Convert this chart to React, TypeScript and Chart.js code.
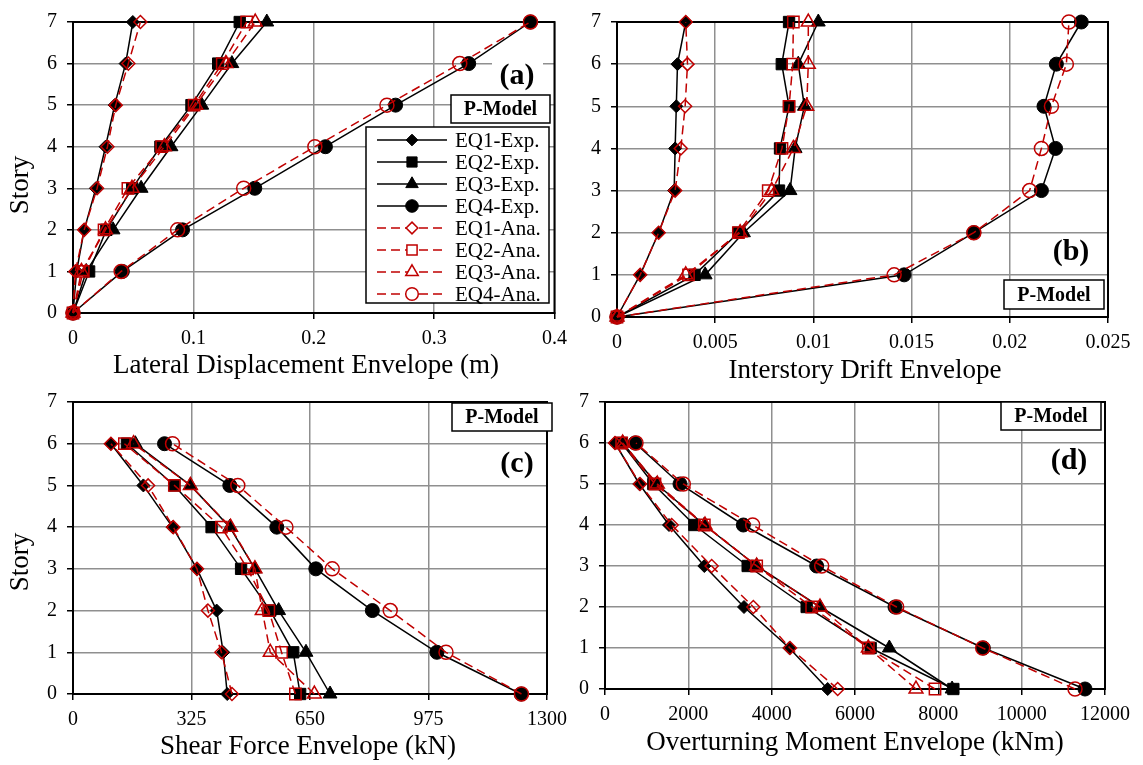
import React, { useEffect, useRef } from 'react';
import { Chart, registerables } from 'chart.js';

Chart.register(...registerables);

const FONT = "'Liberation Serif', 'Times New Roman', serif";
const RED = '#c00000';
const GRID = '#8f8f8f';

// ---------- shared ----------
const seriesLabels = ['EQ1-Exp.', 'EQ2-Exp.', 'EQ3-Exp.', 'EQ4-Exp.', 'EQ1-Ana.', 'EQ2-Ana.', 'EQ3-Ana.', 'EQ4-Ana.'];
const storiesTop = [0, 1, 2, 3, 4, 5, 6, 7];
const storiesBottom = [0, 1, 2, 3, 4, 5, 6];
const storyTicks = [0, 1, 2, 3, 4, 5, 6, 7];

// ---------- (a) Lateral displacement envelope (m) ----------
const dispTicks = [0, 0.1, 0.2, 0.3, 0.4];
const dispEQ1Exp = [0, 0.003, 0.0093, 0.019, 0.027, 0.0346, 0.0437, 0.0497];
const dispEQ2Exp = [0, 0.0134, 0.0277, 0.0492, 0.0726, 0.0984, 0.1206, 0.1385];
const dispEQ3Exp = [0, 0.011, 0.0333, 0.0566, 0.0814, 0.107, 0.132, 0.161];
const dispEQ4Exp = [0, 0.041, 0.091, 0.151, 0.2097, 0.268, 0.3287, 0.38];
const dispEQ1Ana = [0, 0.002, 0.0093, 0.02, 0.0286, 0.0355, 0.046, 0.056];
const dispEQ2Ana = [0, 0.0085, 0.0258, 0.0456, 0.0737, 0.1006, 0.124, 0.1443];
const dispEQ3Ana = [0, 0.007, 0.027, 0.049, 0.0759, 0.102, 0.127, 0.1514];
const dispEQ4Ana = [0, 0.04, 0.0869, 0.1418, 0.2009, 0.2608, 0.3213, 0.38];

// ---------- (b) Interstory drift envelope ----------
const driftTicks = [0, 0.005, 0.01, 0.015, 0.02, 0.025];
const driftEQ1Exp = [0, 0.00118, 0.00212, 0.00291, 0.00296, 0.00302, 0.00308, 0.0035];
const driftEQ2Exp = [0, 0.00395, 0.00618, 0.00825, 0.0083, 0.00876, 0.00839, 0.00876];
const driftEQ3Exp = [0, 0.00449, 0.00644, 0.00881, 0.00907, 0.00954, 0.00923, 0.01025];
const driftEQ4Exp = [0, 0.01462, 0.01817, 0.02161, 0.02233, 0.02174, 0.02237, 0.02364];
const driftEQ1Ana = [0, 0.00118, 0.00212, 0.00296, 0.00325, 0.00347, 0.00359, 0.0035];
const driftEQ2Ana = [0, 0.00364, 0.00618, 0.0077, 0.0084, 0.00876, 0.00895, 0.00898];
const driftEQ3Ana = [0, 0.0035, 0.00627, 0.00788, 0.00898, 0.00966, 0.00974, 0.00974];
const driftEQ4Ana = [0, 0.01411, 0.01817, 0.02101, 0.02161, 0.02212, 0.02288, 0.02301];

// ---------- (c) Shear force envelope (kN) ----------
const shearTicks = [0, 325, 650, 975, 1300];
const shearEQ1Exp = [423, 412, 394, 340, 273, 193, 104];
const shearEQ2Exp = [623, 604, 541, 461, 380, 278, 148];
const shearEQ3Exp = [705, 639, 564, 499, 430, 322, 171];
const shearEQ4Exp = [1229, 998, 821, 666, 559, 430, 251];
const shearEQ1Ana = [436, 407, 370, 340, 275, 206, 104];
const shearEQ2Ana = [610, 572, 537, 479, 407, 278, 141];
const shearEQ3Ana = [662, 541, 519, 499, 432, 322, 166];
const shearEQ4Ana = [1230, 1023, 870, 711, 584, 452, 273];

// ---------- (d) Overturning moment envelope (kNm) ----------
const momentTicks = [0, 2000, 4000, 6000, 8000, 10000, 12000];
const momentEQ1Exp = [5344, 4424, 3336, 2384, 1536, 824, 240];
const momentEQ2Exp = [8360, 6376, 4840, 3424, 2144, 1160, 400];
const momentEQ3Exp = [8330, 6824, 5160, 3640, 2384, 1240, 424];
const momentEQ4Exp = [11520, 9080, 6960, 5080, 3320, 1800, 720];
const momentEQ1Ana = [5584, 4440, 3560, 2560, 1600, 840, 240];
const momentEQ2Ana = [7920, 6320, 4960, 3640, 2384, 1200, 400];
const momentEQ3Ana = [7464, 6320, 5160, 3640, 2400, 1256, 424];
const momentEQ4Ana = [11280, 9064, 7000, 5200, 3544, 1880, 744];

const shapes = ['rectRot', 'rect', 'triangle', 'circle'];
const radii = [6.5, 8, 8, 7];

type Box = [number, number, number, number];
interface PanelSpec {
  key: string;
  left: number; top: number; w: number; h: number;
  area: { l: number; t: number; r: number; b: number };
  xMin: number; xMax: number; xTicks: number[];
  stories: number[];
  series: number[][];
  xTitle: string; xTitlePos: [number, number];
  yTitlePos?: [number, number];
  label: string; labelPos: [number, number]; labelBg?: Box;
  pbox: Box;
  legend?: Box;
}

const panels: PanelSpec[] = [
  {
    key: 'a', left: 0, top: 0, w: 575, h: 385,
    area: { l: 73, t: 18, r: 557, b: 313 },
    xMin: 0, xMax: 0.4, xTicks: dispTicks, stories: storiesTop,
    series: [dispEQ1Exp, dispEQ2Exp, dispEQ3Exp, dispEQ4Exp, dispEQ1Ana, dispEQ2Ana, dispEQ3Ana, dispEQ4Ana],
    xTitle: 'Lateral Displacement Envelope (m)', xTitlePos: [306, 373],
    yTitlePos: [28, 185],
    label: '(a)', labelPos: [517, 76], labelBg: [492, 58, 51, 35],
    pbox: [451, 95, 99, 28],
    legend: [366, 127, 183, 176],
  },
  {
    key: 'b', left: 575, top: 0, w: 568, h: 385,
    area: { l: 617, t: 18, r: 1108, b: 317 },
    xMin: 0, xMax: 0.025, xTicks: driftTicks, stories: storiesTop,
    series: [driftEQ1Exp, driftEQ2Exp, driftEQ3Exp, driftEQ4Exp, driftEQ1Ana, driftEQ2Ana, driftEQ3Ana, driftEQ4Ana],
    xTitle: 'Interstory Drift Envelope', xTitlePos: [865, 378],
    label: '(b)', labelPos: [1071, 252],
    pbox: [1004, 280, 100, 29],
  },
  {
    key: 'c', left: 0, top: 380, w: 575, h: 385,
    area: { l: 73, t: 396, r: 557, b: 694 },
    xMin: 0, xMax: 1300, xTicks: shearTicks, stories: storiesBottom,
    series: [shearEQ1Exp, shearEQ2Exp, shearEQ3Exp, shearEQ4Exp, shearEQ1Ana, shearEQ2Ana, shearEQ3Ana, shearEQ4Ana],
    xTitle: 'Shear Force Envelope (kN)', xTitlePos: [308, 754],
    yTitlePos: [28, 562],
    label: '(c)', labelPos: [517, 464],
    pbox: [452, 403, 100, 28],
  },
  {
    key: 'd', left: 575, top: 380, w: 568, h: 385,
    area: { l: 605, t: 396, r: 1105, b: 689 },
    xMin: 0, xMax: 12000, xTicks: momentTicks, stories: storiesBottom,
    series: [momentEQ1Exp, momentEQ2Exp, momentEQ3Exp, momentEQ4Exp, momentEQ1Ana, momentEQ2Ana, momentEQ3Ana, momentEQ4Ana],
    xTitle: 'Overturning Moment Envelope (kNm)', xTitlePos: [855, 750],
    label: '(d)', labelPos: [1069, 461],
    pbox: [1001, 402, 100, 28],
  },
];

function shapePath(ctx: CanvasRenderingContext2D, shape: string, x: number, y: number, r: number) {
  ctx.beginPath();
  if (shape === 'circle') {
    ctx.arc(x, y, r, 0, Math.PI * 2);
  } else if (shape === 'rect') {
    const s = r * Math.SQRT1_2;
    ctx.rect(x - s, y - s, 2 * s, 2 * s);
  } else if (shape === 'rectRot') {
    ctx.moveTo(x, y - r);
    ctx.lineTo(x + r, y);
    ctx.lineTo(x, y + r);
    ctx.lineTo(x - r, y);
    ctx.closePath();
  } else {
    ctx.moveTo(x, y - r);
    ctx.lineTo(x + r * Math.sin((2 * Math.PI) / 3), y - r * Math.cos((2 * Math.PI) / 3));
    ctx.lineTo(x + r * Math.sin((4 * Math.PI) / 3), y - r * Math.cos((4 * Math.PI) / 3));
    ctx.closePath();
  }
}

function makePlugin(spec: PanelSpec) {
  const ox = spec.left;
  const oy = spec.top;
  return {
    id: 'anno' + spec.key,
    beforeDatasetsDraw(chart: any) {
      const { ctx, chartArea: a } = chart;
      ctx.save();
      ctx.strokeStyle = '#000';
      ctx.lineWidth = 2;
      ctx.beginPath();
      ctx.moveTo(a.left - 1, a.top);
      ctx.lineTo(a.right, a.top);
      ctx.lineTo(a.right, a.bottom + 1);
      ctx.stroke();
      ctx.restore();
    },
    afterDraw(chart: any) {
      const ctx: CanvasRenderingContext2D = chart.ctx;
      ctx.save();
      ctx.fillStyle = '#000';
      // x title
      ctx.font = `27px ${FONT}`;
      ctx.textAlign = 'center';
      ctx.textBaseline = 'alphabetic';
      ctx.fillText(spec.xTitle, spec.xTitlePos[0] - ox, spec.xTitlePos[1] - oy);
      // y title
      if (spec.yTitlePos) {
        ctx.save();
        ctx.translate(spec.yTitlePos[0] - ox, spec.yTitlePos[1] - oy);
        ctx.rotate(-Math.PI / 2);
        ctx.textAlign = 'center';
        ctx.textBaseline = 'alphabetic';
        ctx.fillText('Story', 0, 0);
        ctx.restore();
      }
      // panel label
      if (spec.labelBg) {
        ctx.fillStyle = '#fff';
        ctx.fillRect(spec.labelBg[0] - ox, spec.labelBg[1] - oy, spec.labelBg[2], spec.labelBg[3]);
      }
      ctx.fillStyle = '#000';
      ctx.font = `bold 30px ${FONT}`;
      ctx.textAlign = 'center';
      ctx.textBaseline = 'middle';
      ctx.fillText(spec.label, spec.labelPos[0] - ox, spec.labelPos[1] - oy);
      // P-Model box
      const [bx, by, bw, bh] = spec.pbox;
      ctx.fillStyle = '#fff';
      ctx.fillRect(bx - ox, by - oy, bw, bh);
      ctx.strokeStyle = '#000';
      ctx.lineWidth = 1.5;
      ctx.strokeRect(bx - ox, by - oy, bw, bh);
      ctx.fillStyle = '#000';
      ctx.font = `bold 20px ${FONT}`;
      ctx.fillText('P-Model', bx - ox + bw / 2, by - oy + bh / 2 + 1);
      // legend
      if (spec.legend) {
        const [lx, ly, lw, lh] = spec.legend;
        ctx.fillStyle = '#fff';
        ctx.fillRect(lx - ox, ly - oy, lw, lh);
        ctx.strokeStyle = '#000';
        ctx.lineWidth = 1.5;
        ctx.strokeRect(lx - ox, ly - oy, lw, lh);
        for (let i = 0; i < seriesLabels.length; i++) {
          const ana = i >= 4;
          const k = i % 4;
          const y = ly - oy + 13 + i * 22;
          const x0 = lx - ox + 11;
          const x1 = lx - ox + 81;
          const xm = (x0 + x1) / 2;
          ctx.save();
          ctx.strokeStyle = ana ? RED : '#000';
          ctx.lineWidth = 1.5;
          ctx.setLineDash(ana ? [9, 5] : []);
          ctx.beginPath();
          ctx.moveTo(x0, y);
          ctx.lineTo(x1, y);
          ctx.stroke();
          ctx.setLineDash([]);
          shapePath(ctx, shapes[k], xm, y, radii[k] * 0.9);
          ctx.fillStyle = ana ? '#fff' : '#000';
          ctx.fill();
          ctx.lineWidth = ana ? 1.5 : 1;
          ctx.stroke();
          ctx.restore();
          ctx.fillStyle = '#000';
          ctx.font = `21px ${FONT}`;
          ctx.textAlign = 'left';
          ctx.textBaseline = 'middle';
          ctx.fillText(seriesLabels[i], lx - ox + 89, y + 1);
        }
      }
      ctx.restore();
    },
  };
}

function makeConfig(spec: PanelSpec): any {
  const yW = spec.area.l - spec.left;
  const padTop = spec.area.t - spec.top;
  const padRight = spec.left + spec.w - spec.area.r;
  const xH = spec.top + spec.h - spec.area.b;
  const datasets = spec.series.map((vals, i) => {
    const k = i % 4;
    const ana = i >= 4;
    return {
      label: seriesLabels[i],
      data: vals.map((v, j) => ({ x: v, y: spec.stories[j] })),
      showLine: true,
      borderColor: ana ? RED : '#000',
      borderWidth: 1.5,
      borderDash: ana ? [9, 5] : [],
      backgroundColor: ana ? 'rgba(255,255,255,0)' : '#000',
      pointStyle: shapes[k],
      pointRadius: radii[k],
      pointBorderColor: ana ? RED : '#000',
      pointBackgroundColor: ana ? 'rgba(255,255,255,0)' : '#000',
      pointBorderWidth: ana ? 1.5 : 1,
      tension: 0,
      clip: false,
      order: ana ? 1 : 2,
    };
  });
  const tickFont = { family: FONT, size: 20 };
  return {
    type: 'scatter',
    data: { datasets },
    options: {
      animation: false,
      responsive: false,
      maintainAspectRatio: false,
      events: [],
      layout: { padding: { left: 0, top: padTop, right: padRight, bottom: 0 } },
      plugins: { legend: { display: false }, tooltip: { enabled: false }, title: { display: false } },
      scales: {
        x: {
          type: 'linear',
          min: spec.xMin,
          max: spec.xMax,
          afterBuildTicks: (scale: any) => {
            scale.ticks = spec.xTicks.map((v) => ({ value: v }));
          },
          afterFit: (scale: any) => {
            scale.height = xH;
          },
          ticks: {
            font: tickFont,
            color: '#000',
            padding: 8,
            maxRotation: 0,
            autoSkip: false,
            callback: (v: any) => String(v),
          },
          grid: { color: GRID, lineWidth: 1.5, tickColor: '#000', tickLength: 6, tickWidth: 1.5 },
          border: { color: '#000', width: 2 },
        },
        y: {
          type: 'linear',
          min: 0,
          max: 7,
          afterBuildTicks: (scale: any) => {
            scale.ticks = storyTicks.map((v) => ({ value: v }));
          },
          afterFit: (scale: any) => {
            scale.width = yW;
          },
          ticks: {
            font: tickFont,
            color: '#000',
            padding: 10,
            autoSkip: false,
            callback: (v: any) => String(v),
          },
          grid: { color: GRID, lineWidth: 1.5, tickColor: '#000', tickLength: 6, tickWidth: 1.5 },
          border: { color: '#000', width: 2 },
        },
      },
    },
    plugins: [makePlugin(spec)],
  };
}

function Panel({ spec }: { spec: PanelSpec }) {
  const ref = useRef<HTMLCanvasElement | null>(null);
  useEffect(() => {
    if (!ref.current) return;
    const chart = new Chart(ref.current, makeConfig(spec));
    return () => chart.destroy();
  }, [spec]);
  return (
    <canvas
      ref={ref}
      width={spec.w}
      height={spec.h}
      style={{ position: 'absolute', left: spec.left, top: spec.top, width: spec.w, height: spec.h }}
    />
  );
}

export default function App() {
  return (
    <div style={{ position: 'absolute', left: 0, top: 0, width: 1143, height: 765, background: '#fff', overflow: 'hidden' }}>
      {panels.map((p) => (
        <Panel key={p.key} spec={p} />
      ))}
    </div>
  );
}
